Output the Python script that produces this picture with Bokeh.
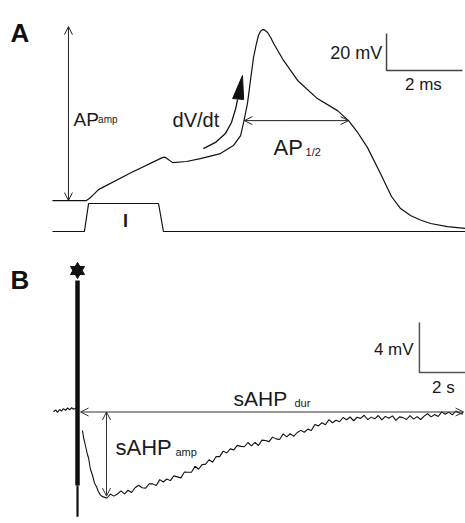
from bokeh.plotting import figure
from bokeh.layouts import column
from bokeh.models import Range1d, Arrow, OpenHead, Label
from bokeh.embed import file_html
from bokeh.resources import INLINE

FONT = "Liberation Sans"

# ---------------- Panel A: single action potential (ms, mV) ----------------
ap_time_ms = [0.00, 0.89, 0.97, 1.08, 1.21, 2.05, 2.89, 2.95, 3.03, 3.16, 3.53, 3.89,
              4.42, 4.76, 4.95, 5.03, 5.13, 5.21, 5.29, 5.36, 5.42, 5.47, 5.53, 5.58,
              5.66, 5.74, 5.82, 6.08, 6.45, 6.97, 7.50, 7.79, 8.03, 8.29, 8.63, 8.92,
              9.16, 9.42, 9.68, 9.95, 10.39, 10.87]
ap_voltage_mv = [-70.0, -70.0, -68.9, -66.8, -64.1, -55.1, -46.8, -46.5, -47.6, -49.5, -48.9, -47.3,
                 -44.6, -40.3, -34.9, -27.8, -17.6, -5.1, 7.3, 14.3, 19.2, 21.4, 22.4, 22.2,
                 20.8, 18.1, 14.9, 5.7, -5.1, -14.9, -21.4, -26.8, -33.2, -41.4, -55.4, -67.8,
                 -74.3, -78.1, -80.5, -82.4, -84.1, -85.1]

# injected current step (nA)
current_time_ms = [0.0, 0.84, 0.95, 2.79, 2.92, 10.87]
current_na = [0, 0, 1, 1, 0, 0]

# dV/dt curved arrow
dvdt_time_ms = [3.97, 4.29, 4.55, 4.71, 4.82, 4.87]
dvdt_voltage_mv = [-41.9, -38.6, -33.8, -27.8, -20.3, -15.4]
dvdt_head_time_ms = [4.74, 5.00, 5.03]
dvdt_head_voltage_mv = [-14.9, -2.4, -15.4]

# ---------------- Panel B: sAHP after a spike train (s, mV) ----------------
pre_time_s = [-1.02, -0.93, -0.85, -0.76, -0.68, -0.60, -0.51, -0.42, -0.34, -0.25, -0.17, -0.08, 0.0]
pre_voltage_mv = [-70.10, -69.95, -70.15, -69.92, -70.05, -69.85, -69.98, -69.80, -69.95, -69.78,
                  -69.90, -69.82, -69.85]

decay_time_s = [0.21, 0.26, 0.30, 0.36, 0.42, 0.47, 0.55, 0.64, 0.72, 0.81, 0.89, 0.97, 1.03]
decay_voltage_mv = [-71.6, -72.2, -72.5, -73.0, -73.5, -73.8, -74.7, -75.2, -75.8, -76.1, -76.5,
                    -76.75, -76.85]

sahp_t0_s = 1.10
sahp_dt_s = 0.15
sahp_voltage_mv = [
    -76.91, -77.02, -76.68, -76.85, -76.68, -76.43, -76.67, -76.38, -76.56, -76.18,
    -75.98, -76.18, -76.21, -75.86, -75.87, -76.00, -75.53, -75.72, -75.48, -75.61,
    -75.23, -75.31, -75.39, -74.92, -74.94, -74.94, -74.46, -74.70, -74.33, -74.29,
    -73.94, -74.14, -73.68, -73.69, -73.25, -73.40, -73.07, -73.15, -72.79, -72.87,
    -72.90, -72.56, -72.83, -72.55, -72.80, -72.37, -72.40, -72.49, -72.13, -72.27,
    -72.32, -71.87, -72.11, -71.86, -72.07, -71.76, -71.59, -71.74, -71.49, -71.60,
    -71.12, -71.23, -70.98, -71.14, -70.73, -70.98, -70.78, -70.90, -70.56, -70.74,
    -70.52, -70.82, -70.54, -70.63, -70.38, -70.73, -70.53, -70.67, -70.40, -70.75,
    -70.47, -70.62, -70.43, -70.79, -70.51, -70.57, -70.72, -70.41, -70.69, -70.49,
    -70.72, -70.45, -70.26, -70.51, -70.32, -70.48, -70.11, -70.30, -70.13, -70.35,
    -70.04, -70.21, -70.29]
sahp_time_s = [round(sahp_t0_s + i * sahp_dt_s, 3) for i in range(len(sahp_voltage_mv))]

post_time_s = decay_time_s + sahp_time_s
post_voltage_mv = decay_voltage_mv + sahp_voltage_mv

spike_train_top_mv = -59.6
spike_train_mid_mv = -76.0
spike_train_bottom_mv = -78.5
star_mv = -58.8


def make_fig(w, h, xr, yr):
    p = figure(width=w, height=h, x_range=Range1d(*xr), y_range=Range1d(*yr),
               output_backend="svg", toolbar_location=None, min_border=0,
               x_axis_location=None, y_axis_location=None)
    p.grid.visible = False
    p.outline_line_color = None
    p.background_fill_color = "white"
    p.border_fill_color = "white"
    return p


def label(p, x, y, text, size, align="left", baseline="alphabetic", bold=False, color="#1a1a1a",
          range_name="default"):
    p.add_layout(Label(x=x, y=y, text=text, text_font=FONT, text_font_size=f"{size}px",
                       text_align=align, text_baseline=baseline, text_color=color,
                       text_font_style="bold" if bold else "normal", y_range_name=range_name))


# ---------------- Figure A ----------------
pA = make_fig(465, 248, (-1.368, 10.868), (-95.9, 38.1))
pA.extra_y_ranges = {"cur": Range1d(-0.607, 8.25)}

pA.line(ap_time_ms, ap_voltage_mv, line_color="#111111", line_width=1.2)
pA.line(current_time_ms, current_na, line_color="#111111", line_width=1.2, y_range_name="cur")
pA.line(dvdt_time_ms, dvdt_voltage_mv, line_color="#111111", line_width=1.3)
pA.patch(dvdt_head_time_ms, dvdt_head_voltage_mv, fill_color="#111111", line_color="#111111")

# AP amplitude arrow
pA.add_layout(Arrow(x_start=0.42, y_start=-70.0, x_end=0.42, y_end=24.0, line_width=1,
                    line_color="#222222",
                    start=OpenHead(size=8, line_width=1, line_color="#222222"),
                    end=OpenHead(size=8, line_width=1, line_color="#222222")))
# AP half-width arrow
pA.add_layout(Arrow(x_start=5.05, y_start=-26.8, x_end=7.79, y_end=-26.8, line_width=1,
                    line_color="#222222",
                    start=OpenHead(size=8, line_width=1, line_color="#222222"),
                    end=OpenHead(size=8, line_width=1, line_color="#222222")))
# scale bar 20 mV / 2 ms
pA.line([8.79, 8.79, 10.79], [20.3, 0.3, 0.3], line_color="#444444", line_width=1.5)

label(pA, -1.105, 20.3, "A", 26, bold=True, color="#111111")
label(pA, 0.553, -26.0, "AP", 19)
label(pA, 1.20, -26.2, "amp", 10)
label(pA, 3.16, -26.2, "dV/dt", 20)
label(pA, 5.816, -41.4, "AP", 22)
label(pA, 6.66, -43.5, "1/2", 11)
label(pA, 8.68, 9.5, "20 mV", 18, align="right", baseline="middle")
label(pA, 9.76, -7.3, "2 ms", 17, align="center", baseline="middle")
label(pA, 1.92, 0.39, "I", 18, align="center", baseline="middle", bold=True, range_name="cur")

# ---------------- Figure B ----------------
pB = make_fig(465, 275, (-3.277, 16.51), (-79.04, -57.04))

pB.line(pre_time_s, pre_voltage_mv, line_color="#111111", line_width=1.1)
pB.line(post_time_s, post_voltage_mv, line_color="#111111", line_width=1.1)
pB.line([0, 0], [spike_train_top_mv, spike_train_mid_mv], line_color="#111111", line_width=4.5)
pB.line([0, 0], [spike_train_mid_mv, spike_train_bottom_mv], line_color="#111111", line_width=2.2)
pB.scatter([0], [star_mv], marker="triangle", size=14, fill_color="#111111", line_color="#111111")
pB.scatter([0], [star_mv], marker="inverted_triangle", size=14, fill_color="#111111",
           line_color="#111111")

# sAHP duration arrow
pB.add_layout(Arrow(x_start=0.13, y_start=-70.12, x_end=16.43, y_end=-70.12, line_width=1,
                    line_color="#333333",
                    start=OpenHead(size=8, line_width=1, line_color="#333333"),
                    end=OpenHead(size=8, line_width=1, line_color="#333333")))
# sAHP amplitude arrow
pB.add_layout(Arrow(x_start=1.234, y_start=-70.12, x_end=1.234, y_end=-76.85, line_width=1,
                    line_color="#333333",
                    start=OpenHead(size=8, line_width=1, line_color="#333333"),
                    end=OpenHead(size=8, line_width=1, line_color="#333333")))
# scale bar 4 mV / 2 s
pB.line([14.55, 14.55, 16.55], [-62.96, -66.96, -66.96], line_color="#555555", line_width=1.5)

label(pB, -2.85, -59.52, "B", 26, bold=True, color="#111111")
label(pB, 6.64, -69.04, "sAHP", 21)
label(pB, 9.23, -69.36, "dur", 11)
label(pB, 1.617, -72.96, "sAHP", 22)
label(pB, 4.17, -73.3, "amp", 11)
label(pB, 14.3, -65.12, "4 mV", 17, align="right", baseline="middle")
label(pB, 15.57, -68.16, "2 s", 17, align="center", baseline="middle")

layout = column(pA, pB, spacing=0)
open("out.html", "w").write(file_html(layout, INLINE))
